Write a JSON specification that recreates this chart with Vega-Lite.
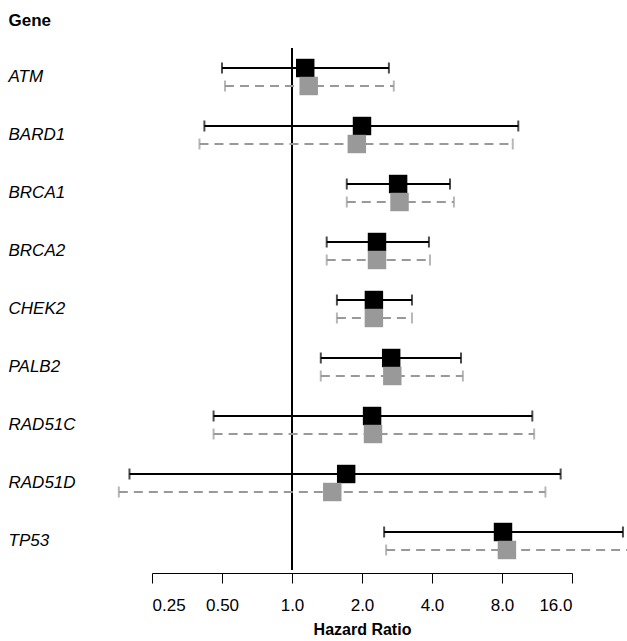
{
  "$schema": "https://vega.github.io/schema/vega-lite/v6.json",
  "autosize": "none",
  "padding": {"left": 152, "top": 48, "right": 55, "bottom": 71},
  "width": 420,
  "height": 522,
  "data": {
    "values": [
      {"gene": "ATM", "series": "a", "hr": 1.14, "lo": 0.5, "hi": 2.61},
      {"gene": "ATM", "series": "b", "hr": 1.18, "lo": 0.515, "hi": 2.74},
      {"gene": "BARD1", "series": "a", "hr": 2.0, "lo": 0.42, "hi": 9.4},
      {"gene": "BARD1", "series": "b", "hr": 1.9, "lo": 0.4, "hi": 8.9},
      {"gene": "BRCA1", "series": "a", "hr": 2.86, "lo": 1.72, "hi": 4.78},
      {"gene": "BRCA1", "series": "b", "hr": 2.9, "lo": 1.72, "hi": 4.97},
      {"gene": "BRCA2", "series": "a", "hr": 2.32, "lo": 1.41, "hi": 3.88},
      {"gene": "BRCA2", "series": "b", "hr": 2.32, "lo": 1.41, "hi": 3.92},
      {"gene": "CHEK2", "series": "a", "hr": 2.25, "lo": 1.56, "hi": 3.28},
      {"gene": "CHEK2", "series": "b", "hr": 2.25, "lo": 1.56, "hi": 3.28},
      {"gene": "PALB2", "series": "a", "hr": 2.67, "lo": 1.33, "hi": 5.33},
      {"gene": "PALB2", "series": "b", "hr": 2.7, "lo": 1.33, "hi": 5.43},
      {"gene": "RAD51C", "series": "a", "hr": 2.21, "lo": 0.46, "hi": 10.8},
      {"gene": "RAD51C", "series": "b", "hr": 2.23, "lo": 0.46, "hi": 11.0},
      {"gene": "RAD51D", "series": "a", "hr": 1.71, "lo": 0.2, "hi": 14.3},
      {"gene": "RAD51D", "series": "b", "hr": 1.49, "lo": 0.18, "hi": 12.3},
      {"gene": "TP53", "series": "a", "hr": 8.08, "lo": 2.49, "hi": 26.5},
      {"gene": "TP53", "series": "b", "hr": 8.4, "lo": 2.54, "hi": 29}
    ]
  },
  "encoding": {
    "y": {
      "field": "gene",
      "type": "nominal",
      "sort": null,
      "scale": {"paddingInner": 0, "paddingOuter": 0},
      "axis": {
        "title": "Gene",
        "titleAngle": 0,
        "titleAlign": "left",
        "titleBaseline": "middle",
        "titleX": -144,
        "titleY": -28,
        "titleFontSize": 17,
        "titleFontWeight": "bold",
        "labelAlign": "left",
        "labelPadding": 144,
        "labelFontSize": 17,
        "labelFontStyle": "italic",
        "labelColor": "black",
        "ticks": false,
        "domain": false
      }
    },
    "yOffset": {
      "field": "series",
      "type": "nominal",
      "scale": {"range": [11, 47]},
      "legend": null
    },
    "color": {
      "field": "series",
      "type": "nominal",
      "scale": {"domain": ["a", "b"], "range": ["black", "#999999"]},
      "legend": null
    }
  },
  "layer": [
    {
      "mark": {"type": "rule", "color": "black", "strokeWidth": 1.2},
      "encoding": {"x": {"datum": 1}, "y": null, "yOffset": null, "color": null}
    },
    {
      "mark": {"type": "rule", "strokeWidth": 2},
      "encoding": {
        "x": {
          "field": "lo",
          "type": "quantitative",
          "scale": {"type": "log", "base": 2, "domain": [0.25, 16], "nice": false},
          "axis": {
            "values": [0.25, 0.5, 1, 2, 4, 8, 16],
            "labelExpr": "datum.value < 1 ? format(datum.value, '.2f') : format(datum.value, '.1f')",
            "title": "Hazard Ratio",
            "titleFontSize": 16,
            "titleFontWeight": "bold",
            "titlePadding": 8,
            "labelFontSize": 17,
            "labelColor": "black",
            "labelPadding": 14,
            "tickSize": 10,
            "tickColor": "black",
            "domainColor": "black",
            "grid": false,
            "offset": 3
          }
        },
        "x2": {"field": "hi"},
        "strokeDash": {
          "field": "series",
          "type": "nominal",
          "scale": {"domain": ["a", "b"], "range": [[1, 0], [9, 6]]},
          "legend": null
        }
      }
    },
    {
      "mark": {"type": "tick", "thickness": 2, "size": 11},
      "encoding": {"x": {"field": "lo", "type": "quantitative"}}
    },
    {
      "mark": {"type": "tick", "thickness": 2, "size": 11},
      "encoding": {"x": {"field": "hi", "type": "quantitative"}}
    },
    {
      "mark": {"type": "square", "opacity": 1, "size": 340},
      "encoding": {"x": {"field": "hr", "type": "quantitative"}}
    }
  ],
  "config": {
    "font": "Liberation Sans",
    "view": {"stroke": null}
  }
}
